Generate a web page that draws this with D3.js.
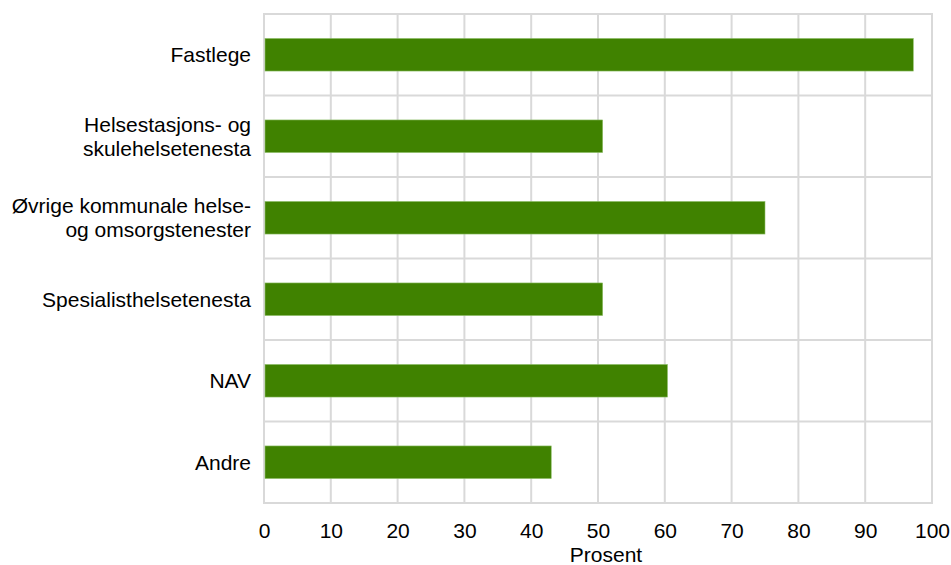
<!DOCTYPE html>
<html>
<head>
<meta charset="utf-8">
<script src="https://cdn.jsdelivr.net/npm/d3@7/dist/d3.min.js"></script>
<style>
  html, body { margin: 0; padding: 0; background: #fff; }
  svg { display: block; font-family: "Liberation Sans", Arial, sans-serif; }
</style>
</head>
<body>
<svg id="chart" width="951" height="565"></svg>
<script>
// Tenester og delen (prosent) som svarte
const categories = [
  ["Fastlege"],
  ["Helsestasjons- og", "skulehelsetenesta"],
  ["Øvrige kommunale helse-", "og omsorgstenester"],
  ["Spesialisthelsetenesta"],
  ["NAV"],
  ["Andre"]
];
const values = [97.2, 50.7, 75.0, 50.7, 60.4, 43.0];
const xTicks = [0, 10, 20, 30, 40, 50, 60, 70, 80, 90, 100];
const xTitle = "Prosent";

const svg = d3.select("#chart");
const margin = { left: 264, right: 19, top: 14, bottom: 62 };
const width = 951, height = 565;
const innerW = width - margin.left - margin.right;
const innerH = height - margin.top - margin.bottom;
const fontSize = 21;

const keys = categories.map((c, i) => i);
const x = d3.scaleLinear().domain([0, 100]).range([0, innerW]);
const y = d3.scaleBand().domain(keys).range([0, innerH]).paddingInner(0.6).paddingOuter(0.3);
const yBands = d3.scaleBand().domain(keys).range([0, innerH]).padding(0);

const g = svg.append("g").attr("transform", `translate(${margin.left},${margin.top})`);

const gridColor = "#d9d9d9";

// vertical grid
g.append("g").selectAll("line").data(xTicks).join("line")
  .attr("x1", d => x(d)).attr("x2", d => x(d))
  .attr("y1", 0).attr("y2", innerH)
  .attr("stroke", gridColor).attr("stroke-width", 2);

// horizontal separators between categories
const seps = keys.map(k => yBands(k)).concat([innerH]);
g.append("g").selectAll("line").data(seps).join("line")
  .attr("x1", -1).attr("x2", innerW + 1)
  .attr("y1", d => d).attr("y2", d => d)
  .attr("stroke", gridColor).attr("stroke-width", 2);

// bars
g.append("g").selectAll("rect").data(values).join("rect")
  .attr("x", x(0) + 1)
  .attr("y", (d, i) => y(i))
  .attr("width", d => x(d) - x(0) - 1)
  .attr("height", y.bandwidth())
  .attr("fill", "#408200")
  .attr("stroke", "#8fbf6a")
  .attr("stroke-width", 0.6);

// x axis
const xAxis = d3.axisBottom(x).tickValues(xTicks).tickSize(0).tickPadding(20);
const xa = g.append("g").attr("transform", `translate(0,${innerH})`).call(xAxis);
xa.select(".domain").remove();
xa.selectAll("text").attr("font-size", fontSize).attr("fill", "#000")
  .attr("font-family", "Liberation Sans, Arial, sans-serif");

// y labels
const yl = g.append("g");
categories.forEach((lines, i) => {
  const cy = y(i) + y.bandwidth() / 2;
  const lh = 24;
  const t = yl.append("text")
    .attr("x", -13)
    .attr("text-anchor", "end")
    .attr("font-size", fontSize)
    .attr("fill", "#000");
  lines.forEach((ln, j) => {
    t.append("tspan")
      .attr("x", -13)
      .attr("y", cy + (j - (lines.length - 1) / 2) * lh)
      .attr("dy", "0.35em")
      .text(ln);
  });
});

// axis title
svg.append("text")
  .attr("x", margin.left + x(50) + 8)
  .attr("y", 562)
  .attr("text-anchor", "middle")
  .attr("font-size", fontSize)
  .attr("fill", "#000")
  .text(xTitle);
</script>
</body>
</html>
